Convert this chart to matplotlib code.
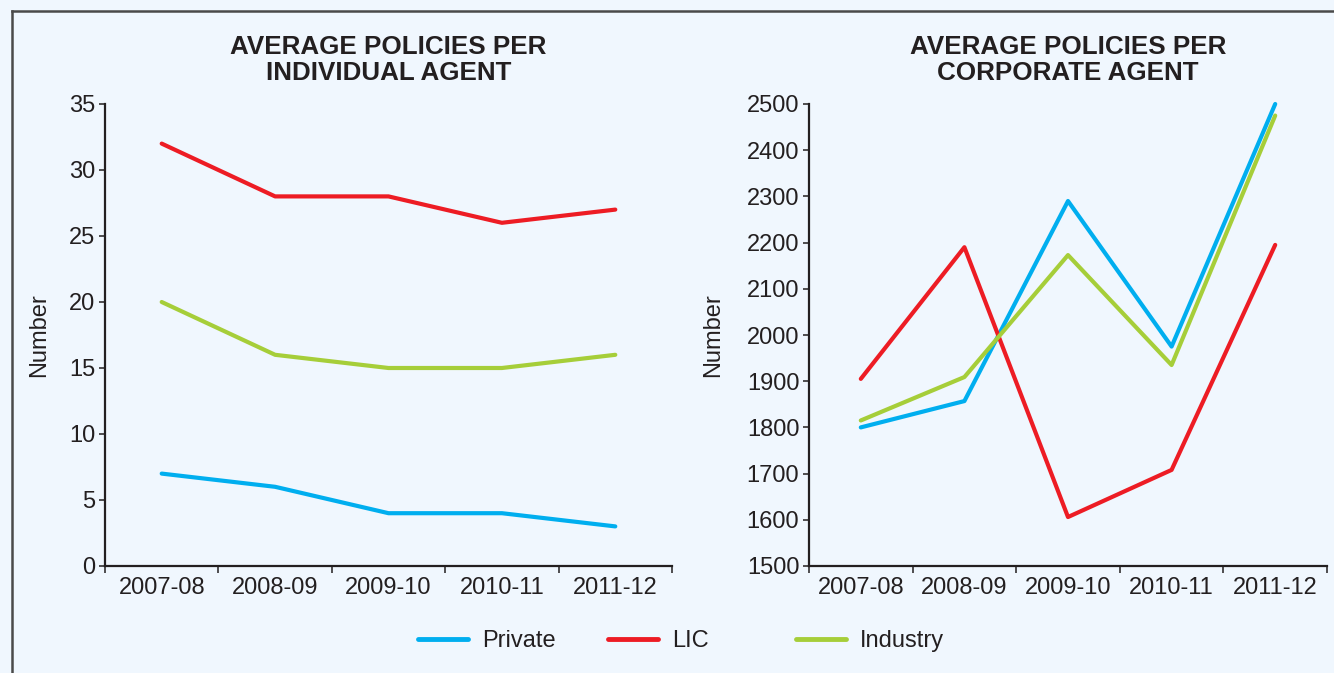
import matplotlib
matplotlib.use("Agg")
import matplotlib.pyplot as plt
from matplotlib.lines import Line2D

years = ["2007-08", "2008-09", "2009-10", "2010-11", "2011-12"]

ind_private = [7, 6, 4, 4, 3]
ind_lic = [32, 28, 28, 26, 27]
ind_industry = [20, 16, 15, 15, 16]

corp_private = [1800, 1857, 2290, 1975, 2500]
corp_lic = [1905, 2190, 1606, 1708, 2195]
corp_industry = [1815, 1909, 2173, 1935, 2475]

series_names = ["Private", "LIC", "Industry"]
colors = {"Private": "#00AEEF", "LIC": "#ED1C24", "Industry": "#A6CE39"}

BG = "#F0F7FE"
FONT = "Liberation Sans"
plt.rcParams["font.family"] = [FONT, "DejaVu Sans"]

fig = plt.figure(figsize=(13.34, 6.73), dpi=100, facecolor=BG)

W, H = 1334.0, 673.0
def axrect(x0, x1, ytop, ybot):
    return [x0 / W, 1 - ybot / H, (x1 - x0) / W, (ybot - ytop) / H]

ax1 = fig.add_axes(axrect(105, 672, 104, 566))
ax2 = fig.add_axes(axrect(809, 1327, 104, 566))

x = list(range(len(years)))
FS = 17

def style(ax, title, ylim, yticks, labelx):
    ax.set_facecolor(BG)
    for s in ["top", "right"]:
        ax.spines[s].set_visible(False)
    for s in ["left", "bottom"]:
        ax.spines[s].set_linewidth(1.6)
        ax.spines[s].set_color("#231F20")
    ax.set_xlim(-0.5, len(years) - 0.5)
    ax.set_ylim(*ylim)
    ax.set_yticks(yticks)
    ax.set_xticks([i - 0.5 for i in range(len(years) + 1)], minor=False)
    ax.set_xticklabels([])
    ax.set_xticks(x, minor=True)
    ax.set_xticklabels(years, minor=True)
    ax.tick_params(axis="x", which="major", length=5, width=1.1, color="#231F20")
    ax.tick_params(axis="x", which="minor", length=0, pad=8, labelsize=FS, labelcolor="#231F20")
    ax.tick_params(axis="y", length=4, width=1.1, pad=3, labelsize=FS, color="#231F20", labelcolor="#231F20")
    ax.set_ylabel("Number", fontsize=FS, color="#231F20")
    ax.yaxis.set_label_coords(labelx, 0.5)
    ax.set_title(title, fontsize=18.7, fontweight="bold", color="#231F20", pad=17, linespacing=1.13)

style(ax1, "AVERAGE POLICIES PER\nINDIVIDUAL AGENT", (0, 35), range(0, 36, 5), -0.097)
style(ax2, "AVERAGE POLICIES PER\nCORPORATE AGENT", (1500, 2500), range(1500, 2501, 100), -0.164)

for name, vals in zip(series_names, [ind_private, ind_lic, ind_industry]):
    ax1.plot(x, vals, color=colors[name], lw=3, solid_capstyle="round", solid_joinstyle="round", clip_on=False)
for name, vals in zip(series_names, [corp_private, corp_lic, corp_industry]):
    ax2.plot(x, vals, color=colors[name], lw=3, solid_capstyle="round", solid_joinstyle="round", clip_on=False)

# legend entries placed individually
leg_x = [418, 608, 796]
for name, lx in zip(series_names, leg_x):
    h = Line2D([], [], color=colors[name], lw=3.5, solid_capstyle="round")
    fig.legend([h], [name], loc="center left", bbox_to_anchor=(lx / W, 1 - 641 / H),
               frameon=False, fontsize=FS, handlelength=2.1, handletextpad=0.6,
               borderpad=0, borderaxespad=0, labelcolor="#231F20")

# outer frame (left and top lines)
fig.add_artist(Line2D([12 / W, 12 / W], [0, 1 - 11 / H], transform=fig.transFigure, color="#4A4A4A", lw=1.8))
fig.add_artist(Line2D([12 / W, 1], [1 - 11 / H, 1 - 11 / H], transform=fig.transFigure, color="#4A4A4A", lw=1.8))

fig.savefig("out.png", dpi=100, facecolor=BG)
